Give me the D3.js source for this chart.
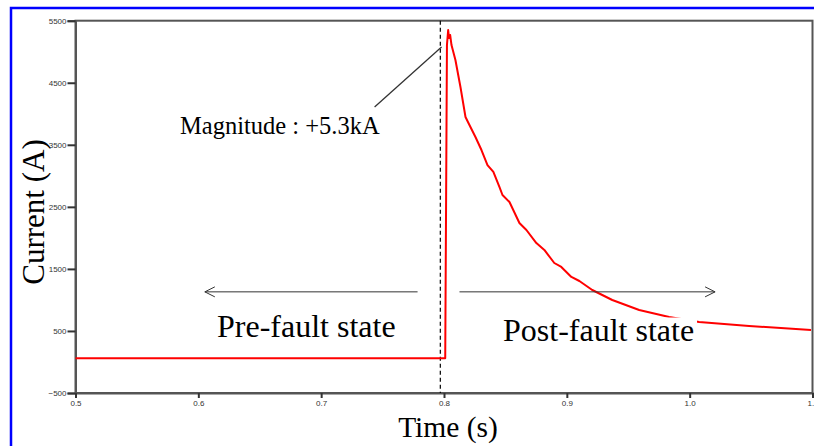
<!DOCTYPE html>
<html>
<head>
<meta charset="utf-8">
<script src="https://cdn.jsdelivr.net/npm/d3@7"></script>
<style>
  body { margin: 0; background: #fff; }
  svg { display: block; }
</style>
</head>
<body>
<div id="chart"></div>
<script>
// fault current trace
const preTime = [0.5, 0.801];
const preCurrent = [60, 60];

const postTime = [0.801, 0.8024, 0.8034, 0.8041, 0.8050, 0.8061, 0.8093, 0.8134, 0.8175, 0.8199,
  0.8256, 0.8305, 0.8354, 0.8402, 0.8451, 0.8476, 0.8533, 0.8614, 0.8671, 0.8752,
  0.8817, 0.8898, 0.8955, 0.9037, 0.9102, 0.9207, 0.9370, 0.9589, 0.9833, 1.0077,
  1.0484, 1.0988];
const postCurrent = [60, 5108, 5350, 5221, 5270, 5108, 4867, 4431, 3948, 3851,
  3626, 3416, 3174, 3062, 2820, 2691, 2578, 2240, 2127, 1917,
  1805, 1595, 1531, 1370, 1305, 1160, 999, 838, 725, 644,
  580, 515];

const yTicks = [5500, 4500, 3500, 2500, 1500, 500, -500];
const xTicks = [0.5, 0.6, 0.7, 0.8, 0.9, 1.0, 1.1];

const faultTime = 0.797;
const annotation = {t0: 0.7435, v0: 4109, t1: 0.798, v1: 5076};
const arrowLevel = 1130;

const width = 814, height = 446;
const margin = {left: 75.5, right: 1.5, top: 20.7, bottom: 53};

const svg = d3.select("#chart").append("svg")
  .attr("width", width)
  .attr("height", height);

const x = d3.scaleLinear().domain([0.5, 1.1]).range([margin.left, width - margin.right]);
const y = d3.scaleLinear().domain([-500, 5500]).range([height - margin.bottom, margin.top]);

// blue frame round the slide
svg.append("path")
  .attr("d", `M11,${height} V8 H${width}`)
  .attr("fill", "none")
  .attr("stroke", "#0000ff")
  .attr("stroke-width", 2.5);

const defs = svg.append("defs");
defs.append("marker")
  .attr("id", "arr")
  .attr("viewBox", "0 0 12 12")
  .attr("refX", 11).attr("refY", 6)
  .attr("markerWidth", 12).attr("markerHeight", 12)
  .attr("markerUnits", "userSpaceOnUse")
  .attr("orient", "auto")
  .append("path")
  .attr("d", "M1,1 L11,6 L1,11")
  .attr("fill", "none")
  .attr("stroke", "#333")
  .attr("stroke-width", 1);

// plot box
svg.append("rect")
  .attr("x", x(0.5)).attr("y", y(5500))
  .attr("width", x(1.1) - x(0.5))
  .attr("height", y(-500) - y(5500))
  .attr("fill", "none")
  .attr("stroke", "#555")
  .attr("stroke-width", 2);

const yAxis = svg.append("g")
  .attr("transform", `translate(${x(0.5)},0)`)
  .call(d3.axisLeft(y).tickValues(yTicks).tickSize(8).tickPadding(1).tickFormat(d3.format("d")));
const xAxis = svg.append("g")
  .attr("transform", `translate(0,${y(-500)})`)
  .call(d3.axisBottom(x).tickValues(xTicks).tickSize(5).tickPadding(2).tickFormat(d3.format(".1f")));

[yAxis, xAxis].forEach(g => {
  g.select(".domain").attr("stroke", "#555").attr("stroke-width", 2);
  g.selectAll(".tick line").attr("stroke", "#333").attr("stroke-width", 2);
  g.selectAll(".tick text")
    .attr("fill", "#333")
    .style("font-family", "Liberation Sans, Arial, sans-serif")
    .style("font-size", "8px");
});

// fault instant
svg.append("line")
  .attr("x1", x(faultTime)).attr("x2", x(faultTime))
  .attr("y1", y(5500)).attr("y2", y(-500))
  .attr("stroke", "#000")
  .attr("stroke-width", 1.2)
  .attr("stroke-dasharray", "4,3");

const line = d3.line().x(d => x(d[0])).y(d => y(d[1]));

svg.append("path")
  .datum(d3.zip(preTime, preCurrent).concat(d3.zip(postTime, postCurrent)))
  .attr("d", line)
  .attr("fill", "none")
  .attr("stroke", "#ff0000")
  .attr("stroke-width", 2)
  .attr("stroke-linejoin", "round");

// annotation
svg.append("line")
  .attr("x1", x(annotation.t0)).attr("y1", y(annotation.v0))
  .attr("x2", x(annotation.t1)).attr("y2", y(annotation.v1))
  .attr("stroke", "#333")
  .attr("stroke-width", 1.3);

const serif = "Liberation Serif, Times New Roman, serif";

svg.append("text")
  .attr("x", 180).attr("y", 134)
  .style("font-family", serif)
  .style("font-size", "24.5px")
  .text("Magnitude : +5.3kA");

// state arrows
svg.append("line")
  .attr("x1", x(0.7785)).attr("x2", x(0.6053))
  .attr("y1", y(arrowLevel)).attr("y2", y(arrowLevel))
  .attr("stroke", "#333").attr("stroke-width", 1)
  .attr("marker-end", "url(#arr)");
svg.append("line")
  .attr("x1", x(0.8126)).attr("x2", x(1.0207))
  .attr("y1", y(arrowLevel)).attr("y2", y(arrowLevel))
  .attr("stroke", "#333").attr("stroke-width", 1)
  .attr("marker-end", "url(#arr)");

svg.append("text")
  .attr("x", 217).attr("y", 337)
  .style("font-family", serif).style("font-size", "32px")
  .text("Pre-fault state");

// the post-fault label sits in a white text box that hides the tail under it
svg.append("rect")
  .attr("x", 499).attr("y", 317.5)
  .attr("width", 198).attr("height", 34)
  .attr("fill", "#fff");

svg.append("text")
  .attr("x", 503).attr("y", 341)
  .style("font-family", serif).style("font-size", "32px")
  .text("Post-fault state");

svg.append("text")
  .attr("text-anchor", "middle")
  .attr("transform", `translate(44,212) rotate(-90)`)
  .style("font-family", serif).style("font-size", "31px")
  .text("Current (A)");

svg.append("text")
  .attr("x", 448).attr("y", 437)
  .attr("text-anchor", "middle")
  .style("font-family", serif).style("font-size", "29.5px")
  .text("Time (s)");
</script>
</body>
</html>
